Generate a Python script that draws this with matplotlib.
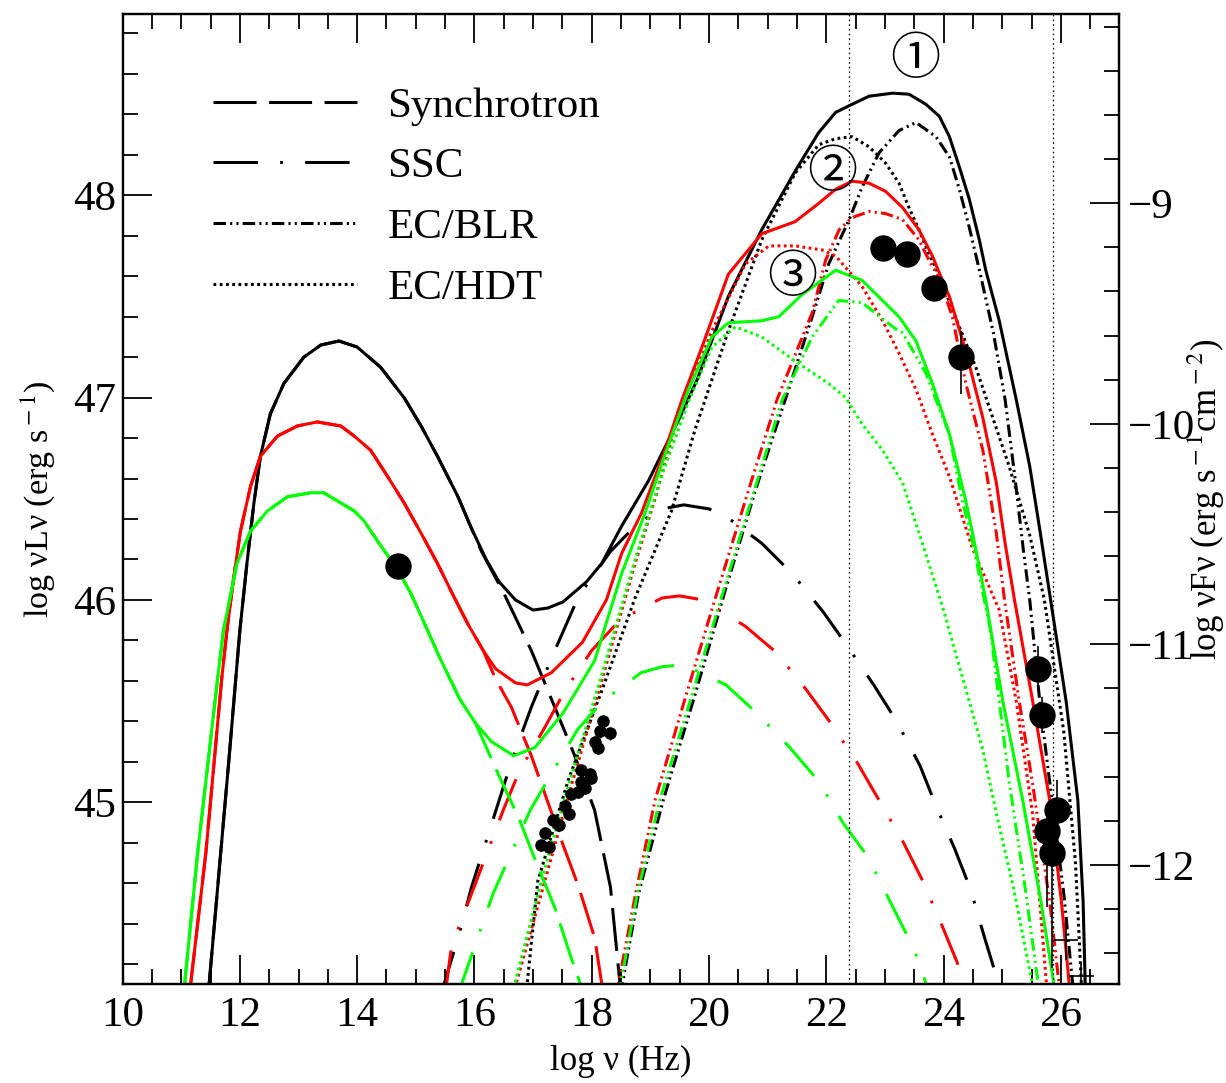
import numpy as np
import matplotlib.pyplot as plt
from matplotlib.ticker import MultipleLocator

plt.rcParams['font.family'] = 'serif'
plt.rcParams['font.serif'] = ['Liberation Serif', 'DejaVu Serif']
plt.rcParams['mathtext.fontset'] = 'stix'
plt.rcParams['lines.scale_dashes'] = False

# ---- model 1 (black) ----
tot1_x = [11.46,11.81,12.0,12.12,12.24,12.35,12.52,12.75,13.09,13.38,13.69,14.0,14.40,14.80,15.09,15.37,15.72,15.94,16.2,16.42,16.70,17.0,17.25,17.51,17.91,18.17,18.5,18.97,19.19,19.5,19.8,20.33,20.90,21.47,21.87,22.16,22.44,22.73,23.13,23.41,23.70,23.93,24.10,24.27,24.44,24.61,24.72,24.95,25.24,25.47,25.64,25.81,26.09,26.29,26.38,26.42]
tot1_y = [44.05,45.2,45.85,46.18,46.48,46.71,46.92,47.07,47.20,47.26,47.28,47.25,47.15,47.00,46.86,46.71,46.51,46.36,46.2,46.09,46.0,45.95,45.96,45.99,46.09,46.18,46.36,46.59,46.72,46.90,47.09,47.50,47.83,48.12,48.31,48.41,48.45,48.49,48.505,48.50,48.45,48.39,48.29,48.14,47.98,47.78,47.63,47.38,46.99,46.66,46.35,46.03,45.50,45.01,44.51,44.05]
syn1_x = [11.46,11.81,12.0,12.12,12.24,12.35,12.52,12.75,13.09,13.38,13.69,14.0,14.40,14.80,15.09,15.37,15.72,15.94,16.12,16.49,16.97,17.37,17.71,18.05,18.32,18.50]
syn1_y = [44.05,45.2,45.85,46.18,46.48,46.71,46.92,47.07,47.20,47.26,47.28,47.25,47.15,47.00,46.86,46.71,46.51,46.36,46.24,46.04,45.75,45.47,45.23,44.96,44.58,44.05]
ssc1_x = [15.43,15.75,15.95,16.29,16.63,16.97,17.37,17.78,18.32,18.79,19.2,19.57,20.0,20.26,20.90,21.42,21.95,22.34,22.81,23.20,23.60,23.86,24.19,24.46,24.69,24.89,24.96]
ssc1_y = [44.05,44.36,44.58,44.89,45.20,45.47,45.75,46.02,46.24,46.38,46.45,46.47,46.45,46.42,46.28,46.13,45.94,45.78,45.58,45.40,45.18,44.99,44.77,44.57,44.34,44.15,44.05]
blr1_x = [18.49,18.8,19.22,19.75,20.28,20.8,21.30,21.76,22.04,22.39,22.61,22.90,23.24,23.53,23.87,24.10,24.27,24.44,24.62,24.85,25.05,25.22,25.36,25.47,25.64,25.81,26.05,26.22]
blr1_y = [44.05,44.55,45.01,45.52,46.05,46.55,46.99,47.40,47.66,47.88,48.04,48.21,48.32,48.36,48.29,48.19,48.03,47.84,47.62,47.32,46.99,46.60,46.25,46.0,45.50,45.10,44.55,44.05]
hdt1_x = [16.88,17.08,17.60,18.17,18.74,19.36,19.76,20.33,20.90,21.47,21.87,22.16,22.44,22.73,23.01,23.24,23.41,23.58,23.75,23.87,24.27,24.55,24.84,25.12,25.47,25.72,26.05,26.25,26.36]
hdt1_y = [44.05,44.61,45.11,45.55,46.01,46.44,46.84,47.33,47.78,48.11,48.25,48.28,48.29,48.24,48.16,48.06,47.94,47.83,47.71,47.64,47.35,47.15,46.90,46.66,46.32,46.0,45.35,44.70,44.05]

# ---- model 2 (red) ----
tot2_x = [11.14,11.42,11.69,11.78,11.89,12.01,12.18,12.35,12.64,12.98,13.32,13.72,13.95,14.23,14.52,14.80,15.09,15.37,15.66,15.89,16.15,16.36,16.70,16.90,17.31,17.84,18.25,18.51,18.85,19.25,19.54,19.88,20.33,20.90,21.47,21.87,22.16,22.44,22.73,23.01,23.30,23.58,23.81,23.98,24.10,24.38,24.67,24.90,25.05,25.21,25.52,25.81,26.01,26.16]
tot2_y = [44.05,44.75,45.61,45.85,46.10,46.34,46.56,46.71,46.81,46.86,46.88,46.86,46.81,46.74,46.61,46.48,46.33,46.18,46.01,45.88,45.75,45.66,45.59,45.58,45.64,45.79,46.0,46.23,46.43,46.74,46.99,47.25,47.61,47.81,47.87,47.96,48.03,48.07,48.06,48.02,47.94,47.83,47.70,47.58,47.50,47.23,46.90,46.58,46.28,46.0,45.50,45.01,44.51,44.05]
syn2_x = [11.14,11.42,11.69,11.78,11.89,12.01,12.18,12.35,12.64,12.98,13.32,13.72,13.95,14.23,14.52,14.80,15.09,15.37,15.66,15.89,16.15,16.36,16.63,16.97,17.24,17.51,17.78,18.05,18.20]
syn2_y = [44.05,44.75,45.61,45.85,46.10,46.34,46.56,46.71,46.81,46.86,46.88,46.86,46.81,46.74,46.61,46.48,46.33,46.18,46.01,45.88,45.75,45.61,45.47,45.23,45.01,44.79,44.58,44.33,44.05]
ssc2_x = [15.50,15.61,15.98,16.49,16.76,17.20,17.54,18.0,18.48,19.2,19.50,19.90,20.62,21.15,21.65,22.08,22.54,22.90,23.30,23.63,23.96,24.23,24.40]
ssc2_y = [44.05,44.29,44.57,44.96,45.15,45.37,45.55,45.75,45.90,46.01,46.02,46.0,45.87,45.74,45.56,45.39,45.19,45.01,44.81,44.62,44.40,44.21,44.05]
blr2_x = [18.42,18.75,19.08,19.6,20.12,20.65,21.16,21.76,21.99,22.22,22.44,22.73,23.01,23.30,23.58,23.75,23.93,24.15,24.38,24.67,24.90,25.04,25.29,25.52,25.81,25.99]
blr2_y = [44.05,44.55,45.01,45.52,46.02,46.52,46.99,47.42,47.68,47.83,47.89,47.92,47.91,47.88,47.78,47.68,47.59,47.40,47.07,46.74,46.33,46.0,45.50,45.09,44.51,44.05]
hdt2_x = [16.66,17.20,17.60,18.17,18.74,19.08,19.48,20.05,20.62,21.02,21.47,21.93,22.16,22.61,22.96,23.24,23.53,23.81,24.10,24.32,24.50,24.95,25.24,25.52,25.77]
hdt2_y = [44.05,44.61,45.03,45.60,46.18,46.50,46.92,47.33,47.66,47.75,47.75,47.73,47.70,47.55,47.38,47.22,47.04,46.82,46.61,46.41,46.25,45.95,45.50,44.94,44.05]

# ---- model 3 (green) ----
tot3_x = [11.04,11.28,11.62,11.72,11.95,12.18,12.47,12.81,13.21,13.43,13.66,13.95,14.12,14.35,14.69,14.92,15.20,15.40,15.75,16.02,16.29,16.67,17.03,17.51,18.05,18.51,18.91,19.19,19.65,20.05,20.33,20.90,21.19,21.59,22.16,22.61,22.96,23.24,23.53,23.81,24.10,24.38,24.55,24.72,25.01,25.35,25.66,25.91]
tot3_y = [44.05,44.75,45.61,45.85,46.18,46.34,46.44,46.51,46.53,46.53,46.49,46.44,46.39,46.29,46.15,46.03,45.85,45.72,45.51,45.39,45.30,45.23,45.27,45.44,45.70,46.13,46.43,46.67,47.04,47.30,47.37,47.38,47.40,47.51,47.63,47.58,47.48,47.40,47.28,47.07,46.82,46.49,46.25,46.0,45.50,45.01,44.51,44.05]
syn3_x = [11.04,11.28,11.62,11.72,11.95,12.18,12.47,12.81,13.21,13.43,13.66,13.95,14.12,14.35,14.69,14.92,15.20,15.40,15.75,16.02,16.42,16.76,17.03,17.37,17.64,17.87]
syn3_y = [44.05,44.75,45.61,45.85,46.18,46.34,46.44,46.51,46.53,46.53,46.49,46.44,46.39,46.29,46.15,46.03,45.85,45.72,45.51,45.39,45.13,44.92,44.72,44.48,44.24,44.05]
ssc3_x = [15.72,16.32,16.63,16.95,17.31,17.76,18.19,18.84,19.2,19.57,20.29,20.82,21.38,21.88,22.28,22.71,23.07,23.40,23.57,23.76]
ssc3_y = [44.05,44.55,44.75,44.96,45.14,45.36,45.50,45.64,45.67,45.68,45.58,45.44,45.27,45.10,44.90,44.73,44.52,44.33,44.22,44.05]
blr3_x = [18.46,18.78,19.16,19.7,20.22,20.75,21.25,21.76,22.21,22.61,23.18,23.30,23.70,23.87,24.10,24.32,24.50,24.8,25.12,25.38,25.64]
blr3_y = [44.05,44.55,45.01,45.52,46.02,46.52,46.99,47.30,47.48,47.47,47.34,47.32,47.12,46.99,46.82,46.49,46.28,45.85,45.10,44.60,44.05]
hdt3_x = [16.64,17.14,17.60,18.17,18.74,19.2,19.65,20.05,20.45,20.90,21.47,22.04,22.33,22.61,22.96,23.30,23.64,24.0,24.33,24.66,24.92,25.19,25.55]
hdt3_y = [44.05,44.61,45.08,45.63,46.20,46.62,46.98,47.25,47.35,47.30,47.18,47.07,47.0,46.87,46.74,46.58,46.28,45.95,45.61,45.27,44.92,44.58,44.05]

# ---- observations ----
opt_x = [14.69]
opt_y = [46.17]
xray_x = [17.14,17.20,17.28,17.34,17.45,17.54,17.62,17.65,17.77,17.82,17.88,17.82,17.97,17.99,18.05,18.11,18.14,18.20,18.31]
xray_y = [44.79,44.85,44.78,44.91,44.89,44.98,44.94,45.04,45.05,45.10,45.07,45.16,45.14,45.12,45.30,45.27,45.35,45.40,45.34]
lat_x = [22.96,23.38,23.84,24.30]
lat_y = [47.74,47.71,47.54,47.20]
lat_lo = [0.0,0.0,0.0,0.18]
lat_hi = [0.0,0.0,0.0,0.13]
tev_x = [25.61,25.68,25.93,25.77,25.85]
tev_y = [45.66,45.43,44.96,44.86,44.75]
tev_lo = [0.11,0.09,0.11,0.38,0.57]
tev_hi = [0.11,0.09,0.15,0.08,0.10]
lim_x = [26.09,26.35]
lim_y = [44.32,44.14]
lim_xerr = [0.21,0.21]
lim_yerr = [0.10,0.06]
band = [22.38,25.86]
tags = ['①','②','③']
tag_x = [23.52,22.10,21.42]
tag_y = [48.67,48.11,47.59]

SYNC = (0,(31,9))
SSC = (0,(32,16,2,16))
BLR = (0,(9,3,1.5,3,1.5,3))
HDT = (0,(2,2.5))
lw = 2.2

fig = plt.figure(figsize=(12.26,10.83), dpi=100)
ax = fig.add_axes([0.1,0.0911,0.8131,0.8961])

models = [('k',tot1_x,tot1_y,syn1_x,syn1_y,ssc1_x,ssc1_y,blr1_x,blr1_y,hdt1_x,hdt1_y),
          ('#ff0000',tot2_x,tot2_y,syn2_x,syn2_y,ssc2_x,ssc2_y,blr2_x,blr2_y,hdt2_x,hdt2_y),
          ('#00ff00',tot3_x,tot3_y,syn3_x,syn3_y,ssc3_x,ssc3_y,blr3_x,blr3_y,hdt3_x,hdt3_y)]
handles = []
for m in models:
    c = m[0]
    ax.plot(m[1], m[2], color=c, lw=lw, solid_joinstyle='round')
    h1, = ax.plot(m[3], m[4], color=c, lw=lw, ls=SYNC)
    h2, = ax.plot(m[5], m[6], color=c, lw=lw, ls=SSC)
    h3, = ax.plot(m[7], m[8], color=c, lw=lw, ls=BLR)
    h4, = ax.plot(m[9], m[10], color=c, lw=lw, ls=HDT)
    if not handles:
        handles = [h1, h2, h3, h4]

for b in band:
    ax.axvline(b, color='k', lw=0.9, ls=(0,(1.2,2.2)))

ax.errorbar(xray_x, xray_y, yerr=0.03, fmt='o', color='k', ms=8, elinewidth=1, capsize=0)
ax.plot(opt_x, opt_y, 'o', color='k', ms=18)
ax.errorbar(lat_x, lat_y, yerr=[lat_lo, lat_hi], fmt='o', color='k', ms=18, elinewidth=1.2, capsize=0)
ax.errorbar(tev_x, tev_y, yerr=[tev_lo, tev_hi], fmt='o', color='k', ms=18, elinewidth=1.2, capsize=0)
ax.errorbar(lim_x, lim_y, xerr=lim_xerr, yerr=lim_yerr, fmt='none', ecolor='k', elinewidth=1.2, capsize=0)

for t, tx, ty in zip(tags, tag_x, tag_y):
    ax.text(tx, ty, t, ha='center', va='center', fontsize=36, family=['Noto Sans CJK JP','DejaVu Sans'])

ax.legend(handles, ['Synchrotron','SSC','EC/BLR','EC/HDT'], loc='upper left', bbox_to_anchor=(0.0907,0.925),
          frameon=False, fontsize=31, handlelength=3.35, handletextpad=0.7, labelspacing=0.5,
          borderpad=0, borderaxespad=0)

ax.set_xlim(10,27)
ax.set_ylim(44.1,48.897)
ax.xaxis.set_major_locator(MultipleLocator(2))
ax.xaxis.set_minor_locator(MultipleLocator(0.5))
ax.yaxis.set_major_locator(MultipleLocator(1))
ax.yaxis.set_minor_locator(MultipleLocator(0.2))
ax.tick_params(axis='x', which='both', direction='in', top=True, labelsize=31, pad=9)
ax.tick_params(axis='y', which='both', direction='in', right=False, labelsize=31, pad=5)
ax.tick_params(which='major', length=21, width=1.3)
ax.tick_params(which='minor', length=10.5, width=1.3)
for s in ax.spines.values():
    s.set_linewidth(1.6)

ax.set_xlabel('log ν (Hz)', fontsize=25)
ax.xaxis.set_label_coords(0.5, -0.062)
ax.set_ylabel(r'log νLν (erg s$^{\rm -1}$)', fontsize=24.5)
ax.yaxis.set_label_coords(-0.065, 0.5)

ax2 = ax.twinx()
ax2.set_ylim(-12.542,-8.141)
ax2.yaxis.set_major_locator(MultipleLocator(1))
ax2.yaxis.set_minor_locator(MultipleLocator(0.2))
ax2.tick_params(which='both', direction='in', labelsize=31, pad=6)
ax2.tick_params(which='major', length=21, width=1.3)
ax2.tick_params(which='minor', length=10.5, width=1.3)
ax2.set_ylabel(r'log νFν (erg s$^{\rm -1}$cm$^{\rm -2}$)', fontsize=25)
ax2.yaxis.set_label_coords(1.066, 0.5)
for s in ax2.spines.values():
    s.set_linewidth(1.6)

fig.savefig('out.png', dpi=100)
